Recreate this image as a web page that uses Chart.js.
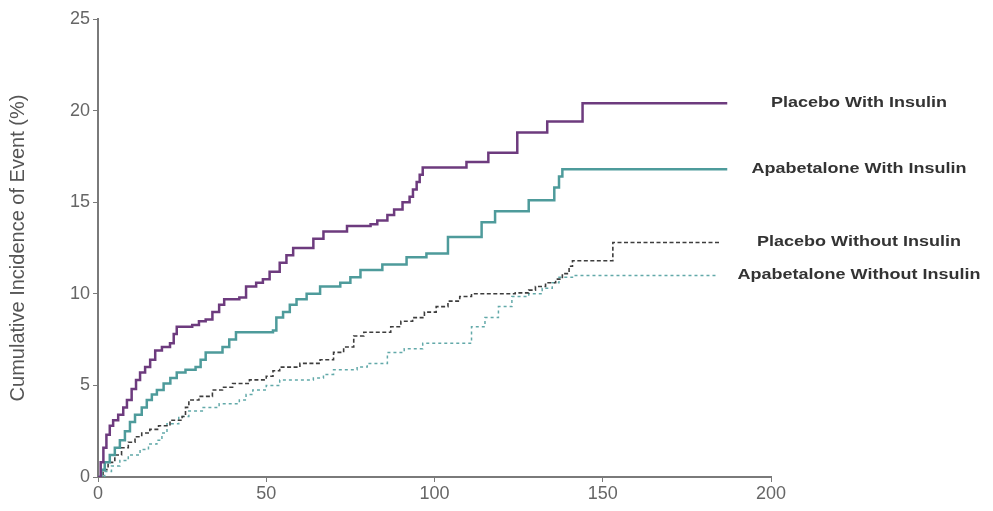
<!DOCTYPE html>
<html>
<head>
<meta charset="utf-8">
<script src="https://cdn.jsdelivr.net/npm/chart.js@4/dist/chart.umd.min.js"></script>
<style>
  body { margin: 0; background: #fff; }
  #wrap { width: 993px; height: 511px; }
</style>
</head>
<body>
<div id="wrap"><canvas id="myChart" width="993" height="511"></canvas></div>
<script>
// days / cumulative incidence (%), step starts
const placeboInsDays = [0, 0.8, 1.6, 2.5, 3.5, 4.5, 6, 7.5, 8.6, 10, 11.3, 12.5, 14, 15.5, 17, 19, 21.4, 22.5, 23.4, 28, 30, 32, 34, 36, 37.5, 42, 44, 47, 49, 51, 54, 56, 58, 64, 67, 74, 81, 83, 86, 88, 90.5, 92.6, 93.6, 94.7, 95.6, 96.5, 109.5, 116, 124.6, 133.5, 144, 187]
const placeboInsPct = [0, 0.8, 1.6, 2.3, 2.8, 3.1, 3.4, 3.8, 4.2, 4.8, 5.3, 5.7, 6.0, 6.4, 6.9, 7.1, 7.3, 7.8, 8.2, 8.3, 8.5, 8.6, 9.0, 9.4, 9.7, 9.8, 10.4, 10.6, 10.8, 11.2, 11.7, 12.1, 12.5, 13.0, 13.4, 13.7, 13.8, 14.0, 14.3, 14.6, 15.0, 15.3, 15.7, 16.1, 16.5, 16.9, 17.2, 17.7, 18.8, 19.4, 20.4, 20.4]

const apabInsDays = [0, 1, 2, 3.5, 5, 6.5, 8, 9.5, 11, 13, 14.5, 16, 17.5, 19.5, 21.5, 23.4, 26, 29, 30.5, 32, 37, 39, 41, 52, 53, 55, 57, 59, 62, 66, 72, 75, 78, 84.5, 91.7, 97.6, 104, 114, 118, 128, 135.6, 137, 138, 187]
const apabInsPct = [0, 0.4, 0.8, 1.2, 1.6, 2.0, 2.5, 3.0, 3.4, 3.8, 4.2, 4.5, 4.75, 5.1, 5.4, 5.7, 5.85, 6.0, 6.4, 6.8, 7.1, 7.5, 7.9, 8.0, 8.7, 9.0, 9.4, 9.7, 10.0, 10.4, 10.6, 10.9, 11.3, 11.6, 12.0, 12.2, 13.1, 13.9, 14.5, 15.1, 15.8, 16.4, 16.8, 16.8]

const placeboNoInsDays = [0, 1.5, 3, 5, 7, 9, 11, 13, 15.4, 18, 21.4, 25, 26, 27, 30, 34, 37, 40, 45, 50, 52, 54, 60, 66, 70, 73, 76, 79, 87, 90, 93.5, 97, 100.5, 104, 107.5, 111, 124, 128, 130, 133, 136, 138, 140, 141, 153, 185]
const placeboNoInsPct = [0, 0.4, 0.8, 1.2, 1.6, 1.9, 2.2, 2.4, 2.6, 2.8, 3.1, 3.3, 3.8, 4.2, 4.4, 4.75, 4.9, 5.1, 5.3, 5.5, 5.8, 6.0, 6.2, 6.4, 6.8, 7.1, 7.7, 7.9, 8.2, 8.5, 8.7, 9.0, 9.3, 9.6, 9.85, 10.0, 10.05, 10.2, 10.4, 10.6, 10.8, 11.1, 11.5, 11.8, 12.8, 12.8]

const apabNoInsDays = [0, 2, 4, 6.5, 9, 12.5, 15, 17.5, 19, 20.5, 24, 27, 31, 36, 42, 44, 46, 50, 54, 64, 67, 70, 77, 80, 86, 91, 96.5, 111, 115, 119, 123, 128, 132, 135, 137, 141, 184]
const apabNoInsPct = [0, 0.3, 0.6, 0.9, 1.2, 1.5, 1.8, 2.0, 2.4, 2.9, 3.3, 3.6, 3.8, 4.0, 4.2, 4.5, 4.75, 5.0, 5.3, 5.4, 5.6, 5.85, 6.0, 6.2, 6.8, 7.0, 7.3, 8.2, 8.7, 9.3, 9.85, 10.0, 10.3, 10.6, 10.9, 11.0, 11.0]

const seriesNames = ['Placebo With Insulin', 'Apabetalone With Insulin', 'Placebo Without Insulin', 'Apabetalone Without Insulin']
const yTicks = [0, 5, 10, 15, 20, 25]
const xTicks = [0, 50, 100, 150, 200]

const pts = (xs, ys) => xs.map((x, i) => ({ x: x, y: ys[i] }))

const endLabels = {
  id: 'endLabels',
  afterDatasetsDraw(chart) {
    const { ctx, chartArea, scales: { y } } = chart
    chart.data.datasets.forEach(ds => {
      const last = ds.data[ds.data.length - 1]
      ctx.save()
      ctx.translate(chartArea.right + 88, y.getPixelForValue(last.y))
      ctx.scale(1, 0.8)
      ctx.font = 'bold 18px "Liberation Sans", Arial, sans-serif'
      ctx.fillStyle = '#333'
      ctx.textAlign = 'center'
      ctx.textBaseline = 'middle'
      ctx.fillText(ds.label, 0, 0)
      ctx.restore()
    })
  }
}

const axisFont = { family: '"Liberation Sans", Arial, sans-serif', size: 18 }

new Chart(document.getElementById('myChart'), {
  type: 'line',
  data: {
    datasets: [
      { label: seriesNames[0], data: pts(placeboInsDays, placeboInsPct), borderColor: '#6d3b7e', borderWidth: 2.5 },
      { label: seriesNames[1], data: pts(apabInsDays, apabInsPct), borderColor: '#4e9b9b', borderWidth: 2.5 },
      { label: seriesNames[2], data: pts(placeboNoInsDays, placeboNoInsPct), borderColor: '#3d3d3d', borderWidth: 1.6, borderDash: [4, 2.5] },
      { label: seriesNames[3], data: pts(apabNoInsDays, apabNoInsPct), borderColor: '#62a9a9', borderWidth: 1.5, borderDash: [3, 3] }
    ].map(d => Object.assign(d, { stepped: 'before', pointRadius: 0, fill: false, borderJoinStyle: 'miter' }))
  },
  options: {
    responsive: false,
    animation: false,
    layout: { padding: { left: 0, right: 222, top: 19, bottom: 0 } },
    plugins: { legend: { display: false }, tooltip: { enabled: false } },
    scales: {
      x: {
        type: 'linear', min: 0, max: 200,
        afterBuildTicks: s => { s.ticks = xTicks.map(v => ({ value: v })) },
        afterFit: s => { s.height = 34 },
        border: { color: '#7a7a7a', width: 2 },
        grid: { drawOnChartArea: false, color: '#7a7a7a', tickLength: 5 },
        ticks: { color: '#666', font: axisFont, padding: 1, maxRotation: 0 }
      },
      y: {
        min: 0, max: 25,
        afterBuildTicks: s => { s.ticks = yTicks.map(v => ({ value: v })) },
        afterFit: s => { s.width = 98 },
        border: { color: '#7a7a7a', width: 2 },
        grid: { drawOnChartArea: false, color: '#7a7a7a', tickLength: 5 },
        ticks: { color: '#666', font: axisFont, padding: 3 },
        title: { display: true, text: 'Cumulative Incidence of Event (%)', color: '#555', font: { family: '"Liberation Sans", Arial, sans-serif', size: 20 }, padding: { top: 6, bottom: 0 } }
      }
    }
  },
  plugins: [endLabels]
})
</script>
</body>
</html>
